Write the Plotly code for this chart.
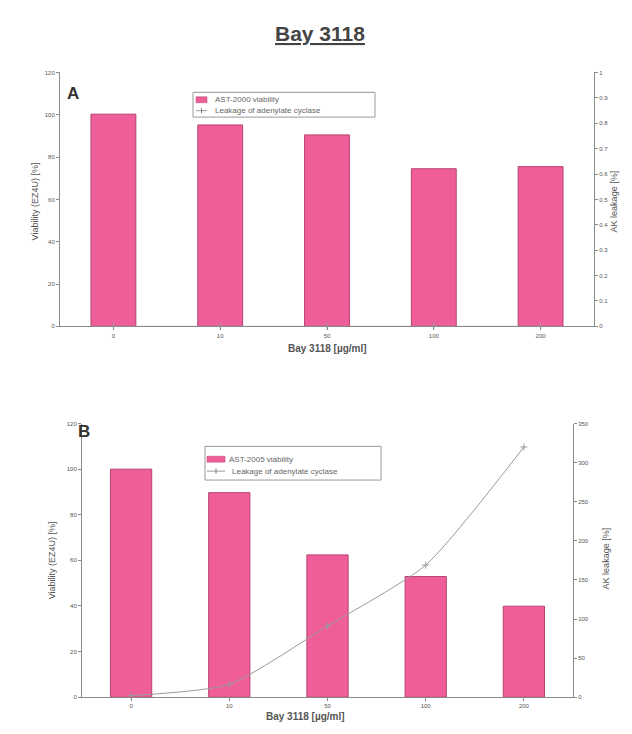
import plotly.graph_objects as go

categories = ["0", "10", "50", "100", "200"]
viability_a = [100.3, 95.2, 90.5, 74.5, 75.5]
leakage_a = [0, 0, 0, 0, 0]
viability_b = [100.0, 89.7, 62.4, 52.9, 39.9]
leakage_b = [2, 16.5, 91, 169, 320]
legend_a = ["AST-2000 viability", "Leakage of adenylate cyclase"]
legend_b = ["AST-2005 viability", "Leakage of adenylate cyclase"]

OFF = 8  # default body margin of the html page
W, H = 632 - 2 * OFF, 734 - 2 * OFF
def px(x): return (x - OFF) / W
def py(y): return 1 - (y - OFF) / H

PINK = "#EF5E98"
EDGE = "#B8406F"
AX = "#8a8a8a"
TXT = "#555555"
LINE = "#9a9a9a"
FONT = "Liberation Sans, Arial, sans-serif"

fig = go.Figure()

fig.add_trace(go.Bar(x=categories, y=viability_a, name=legend_a[0], showlegend=False,
                     marker=dict(color=PINK, line=dict(color=EDGE, width=1)),
                     xaxis="x", yaxis="y"))
fig.add_trace(go.Scatter(x=categories, y=leakage_a, name=legend_a[1], showlegend=False,
                         mode="lines+markers", line=dict(color=LINE, width=1),
                         marker=dict(symbol="cross-thin-open", size=5, line=dict(color="#777", width=1)),
                         xaxis="x", yaxis="y2", cliponaxis=False))

fig.add_trace(go.Bar(x=categories, y=viability_b, name=legend_b[0], showlegend=False,
                     marker=dict(color=PINK, line=dict(color=EDGE, width=1)),
                     xaxis="x2", yaxis="y3"))
fig.add_trace(go.Scatter(x=categories, y=leakage_b, name=legend_b[1], showlegend=False,
                         mode="lines+markers", line=dict(color=LINE, width=1, shape="spline", smoothing=0.6),
                         marker=dict(symbol="cross-thin-open", size=5, line=dict(color="#777", width=1)),
                         xaxis="x2", yaxis="y4", cliponaxis=False))

tickfont = dict(size=6, color=TXT, family=FONT)
xcommon = dict(type="category", showline=True, linecolor=AX, linewidth=1, ticks="outside",
               ticklen=3, tickcolor=AX, tickfont=tickfont, showgrid=False, zeroline=False)
ycommon = dict(showline=True, linecolor=AX, linewidth=1, ticks="outside", ticklen=3,
               tickcolor=AX, tickfont=tickfont, showgrid=False, zeroline=False)

fig.update_layout(
    width=W, height=H, margin=dict(l=0, r=0, t=0, b=0),
    paper_bgcolor="white", plot_bgcolor="white",
    bargap=0.58, showlegend=False,
    font=dict(family=FONT, color=TXT),
    xaxis=dict(domain=[px(60), px(594)], anchor="y", **xcommon),
    yaxis=dict(domain=[py(326), py(70)], anchor="x", range=[0, 120], dtick=20, **ycommon),
    yaxis2=dict(overlaying="y", side="right", anchor="x", range=[0, 1], dtick=0.1, **ycommon),
    xaxis2=dict(domain=[px(82), px(573)], anchor="y3", **xcommon),
    yaxis3=dict(domain=[py(700), py(424)], anchor="x2", range=[0, 120], dtick=20, **ycommon),
    yaxis4=dict(overlaying="y3", side="right", anchor="x2", range=[0, 350], dtick=50, **ycommon),
)

ann = []
shapes = []

def A(text, x, y, size, color="#555", angle=0, xanchor="center", yanchor="middle"):
    ann.append(dict(text=text, x=px(x), y=py(y), xref="paper", yref="paper", showarrow=False,
                    textangle=angle, xanchor=xanchor, yanchor=yanchor,
                    font=dict(size=size, color=color, family=FONT)))

A("<b><u>Bay 3118</u></b>", 320, 31, 21, "#444")
A("<b>A</b>", 73, 91, 17, "#333")
A("<b>B</b>", 84, 432, 17, "#333")
A("Viability (EZ4U) [%]", 35, 200, 9, angle=-90)
A("Viability (EZ4U) [%]", 52, 562, 9, angle=-90)
A("AK leakage [%]", 614, 200, 9, angle=-90)
A("AK leakage [%]", 606, 560, 9, angle=-90)
A("<b>Bay 3118 [µg/ml]</b>", 327, 348, 10)
A("<b>Bay 3118 [µg/ml]</b>", 305, 719, 10)

def legend_box(x0, y0, x1, y1, labels, sw_x0, sw_x1, r1, r2, tx1, tx2):
    shapes.append(dict(type="rect", xref="paper", yref="paper", x0=px(x0), x1=px(x1),
                       y0=py(y1), y1=py(y0), line=dict(color="#999", width=1), fillcolor="white",
                       layer="above"))
    shapes.append(dict(type="rect", xref="paper", yref="paper", x0=px(sw_x0), x1=px(sw_x1),
                       y0=py(r1 + 3), y1=py(r1 - 3), line=dict(color=EDGE, width=0.5), fillcolor=PINK,
                       layer="above"))
    shapes.append(dict(type="line", xref="paper", yref="paper", x0=px(sw_x0), x1=px(sw_x1),
                       y0=py(r2), y1=py(r2), line=dict(color=LINE, width=1), layer="above"))
    cx = (sw_x0 + sw_x1) / 2
    shapes.append(dict(type="line", xref="paper", yref="paper", x0=px(cx), x1=px(cx),
                       y0=py(r2 - 2.5), y1=py(r2 + 2.5), line=dict(color="#777", width=1), layer="above"))
    A(labels[0], tx1, r1, 8, "#666", xanchor="left")
    A(labels[1], tx2, r2, 8, "#666", xanchor="left")

legend_box(193, 90, 375, 115, legend_a, 196, 207, 97.5, 108.5, 213, 213)
legend_box(205, 447, 381, 481, legend_b, 207, 225, 460, 472, 227, 230)

fig.update_layout(annotations=ann, shapes=shapes)

fig.write_html("out.html")
